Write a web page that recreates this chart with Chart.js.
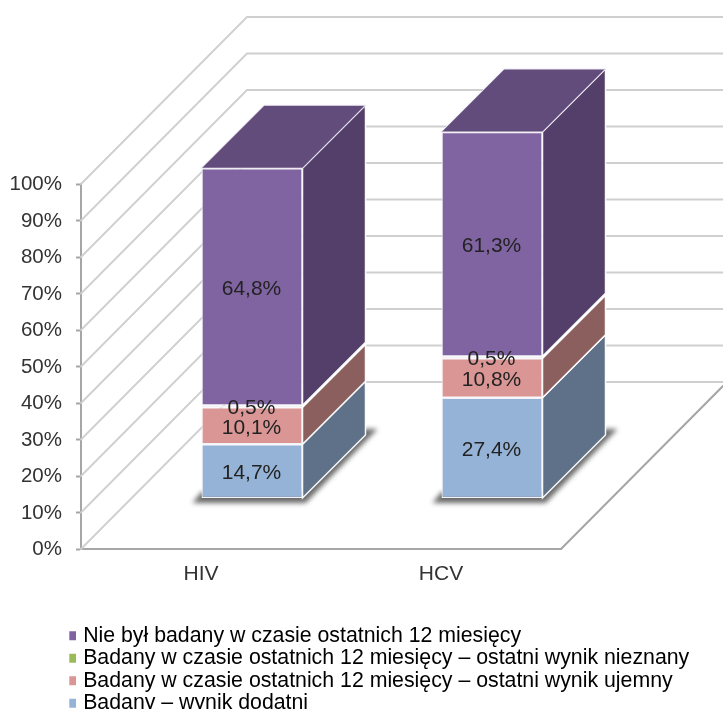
<!DOCTYPE html>
<html><head><meta charset="utf-8">
<style>html,body{margin:0;padding:0;background:#fff}#w{width:723px;height:709px;position:relative;overflow:hidden}</style>
<script src="https://cdn.jsdelivr.net/npm/chart.js@4"></script>
</head><body><div id="w"><canvas id="c" width="723" height="709"></canvas></div>
<script>
const categories = ['HIV', 'HCV'];
const seriesNames = [
  'Badany – wynik dodatni',
  'Badany w czasie ostatnich 12 miesięcy – ostatni wynik ujemny',
  'Badany w czasie ostatnich 12 miesięcy – ostatni wynik nieznany',
  'Nie był badany w czasie ostatnich 12 miesięcy'
];
const positive = [14.7, 27.4];
const negative = [10.1, 10.8];
const unknown = [0.5, 0.5];
const notTested = [64.8, 61.3];
const frontColors = ['#95B3D7', '#D99694', '#9BBB59', '#8064A2'];
const sideColors = ['#5F7189', '#8B5F5E', '#FFFFFF', '#533F69'];
const topColor = '#614C7B';
const F = '"Liberation Sans", Arial, sans-serif';
const WALL = {dx: 166, dy: 167}, BAR = {d: 63};

const threeD = {
  id: 'threeD',
  afterLayout(chart) {
    const {x2, y2} = chart.scales;
    x2.left += 51; x2.right += 51; x2.configure();
    y2.top = 132; y2.bottom = 498; y2.configure();
    const l = chart.legend;
    const shiftX = 70.5 - 1.2 - l.left, shiftY = 624 - l.top;
    l.left += shiftX; l.right += shiftX; l.top += shiftY; l.bottom += shiftY;
    if (l.legendHitBoxes) l.legendHitBoxes.forEach(b => { b.left += shiftX; b.top += shiftY; });
  },
  beforeDatasetsDraw(chart) {
    const c = chart.ctx, y = chart.scales.y, x = chart.scales.x;
    c.save();
    c.lineCap = 'round';
    c.strokeStyle = '#CFCFCF'; c.lineWidth = 1.8;
    y.ticks.forEach(t => {
      const py = y.getPixelForValue(t.value);
      c.beginPath();
      c.moveTo(x.left, py);
      c.lineTo(x.left + WALL.dx, py - WALL.dy);
      c.lineTo(x.right + WALL.dx, py - WALL.dy);
      c.stroke();
    });
    const by = y.getPixelForValue(0);
    c.strokeStyle = '#A6A6A6'; c.lineWidth = 2;
    c.beginPath();
    c.moveTo(x.right, by);
    c.lineTo(x.right + WALL.dx, by - WALL.dy);
    c.stroke();

    const metas = chart.getSortedVisibleDatasetMetas();
    const d = BAR.d;
    // floor shadow
    metas[0].data.forEach(el => {
      const l = el.x - el.width / 2, r = el.x + el.width / 2, b = el.base;
      c.save();
      c.filter = 'blur(2.5px)';
      c.fillStyle = 'rgba(80,80,80,0.85)';
      c.beginPath();
      c.moveTo(l - 9, b + 5); c.lineTo(r + 3, b + 5);
      c.lineTo(r + d + 12, b - d - 6); c.lineTo(r + d - 4, b - d - 6);
      c.lineTo(r, b - 6); c.lineTo(l, b - 6);
      c.closePath(); c.fill();
      c.restore();
    });
    // side faces
    metas.forEach((m, i) => {
      m.data.forEach(el => {
        const r = el.x + el.width / 2;
        c.fillStyle = sideColors[i];
        c.strokeStyle = 'rgba(255,255,255,0.95)'; c.lineWidth = 1.5;
        c.beginPath();
        c.moveTo(r, el.y); c.lineTo(r + d, el.y - d);
        c.lineTo(r + d, el.base - d); c.lineTo(r, el.base);
        c.closePath(); c.fill(); c.stroke();
      });
    });
    // top faces
    metas[metas.length - 1].data.forEach(el => {
      const l = el.x - el.width / 2, r = el.x + el.width / 2;
      c.fillStyle = topColor; c.strokeStyle = '#EDE8F2'; c.lineWidth = 1;
      c.beginPath();
      c.moveTo(l, el.y); c.lineTo(r, el.y);
      c.lineTo(r + d, el.y - d); c.lineTo(l + d, el.y - d);
      c.closePath(); c.fill(); c.stroke();
    });
    c.restore();
  },
  afterDatasetsDraw(chart) {
    const c = chart.ctx;
    c.save();
    c.font = '21px ' + F; c.fillStyle = '#222';
    c.textAlign = 'center'; c.textBaseline = 'middle';
    chart.getSortedVisibleDatasetMetas().forEach(m => {
      m.data.forEach((el, j) => {
        const v = chart.data.datasets[m.index].data[j];
        c.fillText(v.toFixed(1).replace('.', ',') + '%', el.x - 0.5, (el.y + el.base) / 2 + 2);
      });
    });
    c.restore();
  }
};

const hiddenAxis = {
  display: true,
  grid: {display: false},
  border: {display: false},
  ticks: {display: false}
};
const valueSets = [positive, negative, unknown, notTested];

new Chart(document.getElementById('c'), {
  type: 'bar',
  plugins: [threeD],
  data: {
    labels: categories,
    datasets: valueSets.map((vals, i) => ({
      label: seriesNames[i],
      data: vals,
      xAxisID: 'x2',
      yAxisID: 'y2',
      backgroundColor: frontColors[i],
      borderColor: '#F4F2F7',
      borderWidth: 1.2,
      borderSkipped: false,
      inflateAmount: 0,
      barThickness: 101,
      clip: false
    }))
  },
  options: {
    responsive: false,
    animation: false,
    devicePixelRatio: 1,
    layout: {padding: 0},
    scales: {
      y: {
        position: 'left', min: 0, max: 100,
        afterFit(s) { s.width = 81; },
        ticks: {stepSize: 10, padding: 14, labelOffset: 0.5, color: '#333', font: {family: F, size: 20.5},
          callback: v => v + '%'},
        grid: {drawOnChartArea: false, tickLength: 5, tickColor: '#A6A6A6', tickWidth: 2},
        border: {color: '#A6A6A6', width: 2}
      },
      x: {
        position: 'bottom',
        afterFit(s) { s.height = s.chart.height - s.chart.legend.height - 549; },
        ticks: {padding: 5, color: '#333', font: {family: F, size: 21}},
        grid: {display: false},
        border: {color: '#A6A6A6', width: 2}
      },
      x2: Object.assign({}, hiddenAxis, {
        position: 'top', stacked: true,
        afterFit(s) { s.height = 184; }
      }),
      y2: Object.assign({}, hiddenAxis, {
        position: 'right', stacked: true, min: 0, max: 100,
        afterFit(s) { s.width = 162; }
      })
    },
    plugins: {
      tooltip: {enabled: false},
      legend: {
        position: 'bottom', align: 'start', reverse: true,
        labels: {
          color: '#333', boxWidth: 2, boxHeight: 2, padding: 1.2,
          font: {family: F, size: 21.3},
          generateLabels(chart) {
            return chart.data.datasets.map((ds, i) => ({
              text: ds.label, fillStyle: frontColors[i], strokeStyle: frontColors[i],
              lineWidth: 7, hidden: false, datasetIndex: i
            }));
          }
        }
      }
    }
  }
});
</script></body></html>
